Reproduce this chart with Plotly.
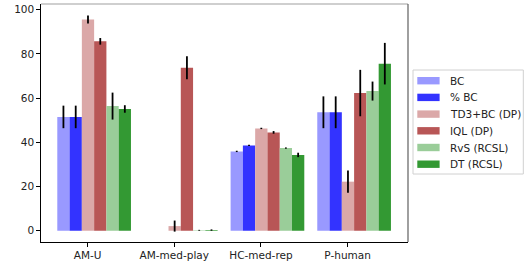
import plotly.graph_objects as go

categories = ["AM-U", "AM-med-play", "HC-med-rep", "P-human"]
methods = ["BC", "% BC", "TD3+BC (DP)", "IQL (DP)", "RvS (RCSL)", "DT (RCSL)"]

bc_vals = [51.5, 0.0, 35.9, 53.6]
bc_err = [5.1, 0.0, 0.3, 7.2]
pbc_vals = [51.5, 0.0, 38.6, 53.6]
pbc_err = [5.1, 0.0, 0.3, 7.2]
td3_vals = [95.6, 2.1, 46.3, 22.2]
td3_err = [1.8, 2.5, 0.3, 5.0]
iql_vals = [85.7, 73.8, 44.5, 62.3]
iql_err = [1.5, 5.2, 0.6, 10.5]
rvs_vals = [56.4, 0.2, 37.4, 63.2]
rvs_err = [6.1, 0.2, 0.3, 4.3]
dt_vals = [55.1, 0.3, 34.3, 75.6]
dt_err = [1.7, 0.3, 1.0, 9.4]

values = [bc_vals, pbc_vals, td3_vals, iql_vals, rvs_vals, dt_vals]
errors = [bc_err, pbc_err, td3_err, iql_err, rvs_err, dt_err]
colors = ["#9999ff", "#3333ff", "#dba8a8", "#b85656", "#9acd99", "#339933"]

W = 0.1417
first_left = -0.35
FONT = "DejaVu Sans"
FS = 10.5

fig = go.Figure()
for k, (name, vals, errs, col) in enumerate(zip(methods, values, errors, colors)):
    off = first_left + W / 2 + k * W
    fig.add_trace(go.Bar(
        x=[i + off for i in range(len(categories))],
        y=vals,
        width=W,
        name=name,
        marker=dict(color=col, line=dict(width=0)),
        error_y=dict(type="data", array=errs, visible=True, color="black",
                     thickness=1.8, width=0),
        showlegend=False,
    ))

# plot area in pixels
L, R, T, B = 40.7, 407.7, 4.0, 242.0
PW, PH = R - L, B - T
def px(xp):
    return (xp - L) / PW
def py(yp):
    return (B - yp) / PH

shapes = [
    dict(type="line", xref="paper", yref="paper", x0=0, x1=1, y0=1, y1=1,
         line=dict(color="#a0a0a0", width=1.2)),
    dict(type="line", xref="paper", yref="paper", x0=1, x1=1, y0=0, y1=1,
         line=dict(color="#606060", width=1.2)),
    dict(type="rect", xref="paper", yref="paper", x0=px(412.7), x1=px(523),
         y0=py(174), y1=py(70), line=dict(color="#d0d0d0", width=1),
         fillcolor="white"),
]
annotations = []
for i, (name, col) in enumerate(zip(methods, colors)):
    yc = 80.7 + i * 16.7
    shapes.append(dict(type="rect", xref="paper", yref="paper",
                       x0=px(417), x1=px(439.3), y0=py(yc + 3.7), y1=py(yc - 3.7),
                       line=dict(width=0), fillcolor=col))
    annotations.append(dict(xref="paper", yref="paper", x=px(447.5), y=py(yc),
                            xanchor="left", yanchor="middle", text=name,
                            showarrow=False,
                            font=dict(family=FONT, size=FS, color="#222")))

fig.update_layout(
    width=524, height=263,
    margin=dict(l=L, r=524 - R, t=T, b=263 - B, pad=0),
    paper_bgcolor="white", plot_bgcolor="white",
    font=dict(family=FONT, size=FS, color="#222"),
    barmode="overlay",
    showlegend=False,
    shapes=shapes,
    annotations=annotations,
    xaxis=dict(range=[-0.538, 3.697], tickvals=list(range(len(categories))),
               ticktext=categories, showgrid=False, zeroline=False,
               showline=True, linecolor="black", linewidth=1.2,
               ticks="outside", ticklen=3.5, tickcolor="black", tickwidth=1,
               automargin=False,
               tickfont=dict(family=FONT, size=FS, color="#222")),
    yaxis=dict(range=[-5.1, 102.6], tickvals=[0, 20, 40, 60, 80, 100],
               showgrid=False, zeroline=False,
               showline=True, linecolor="black", linewidth=1.2,
               ticks="outside", ticklen=3.5, tickcolor="black", tickwidth=1,
               automargin=False,
               tickfont=dict(family=FONT, size=FS, color="#222")),
)

fig.write_html(
    "out.html",
    config={"displayModeBar": False, "staticPlot": True},
    post_script="document.body.style.margin='0';document.body.style.overflow='hidden';",
)
